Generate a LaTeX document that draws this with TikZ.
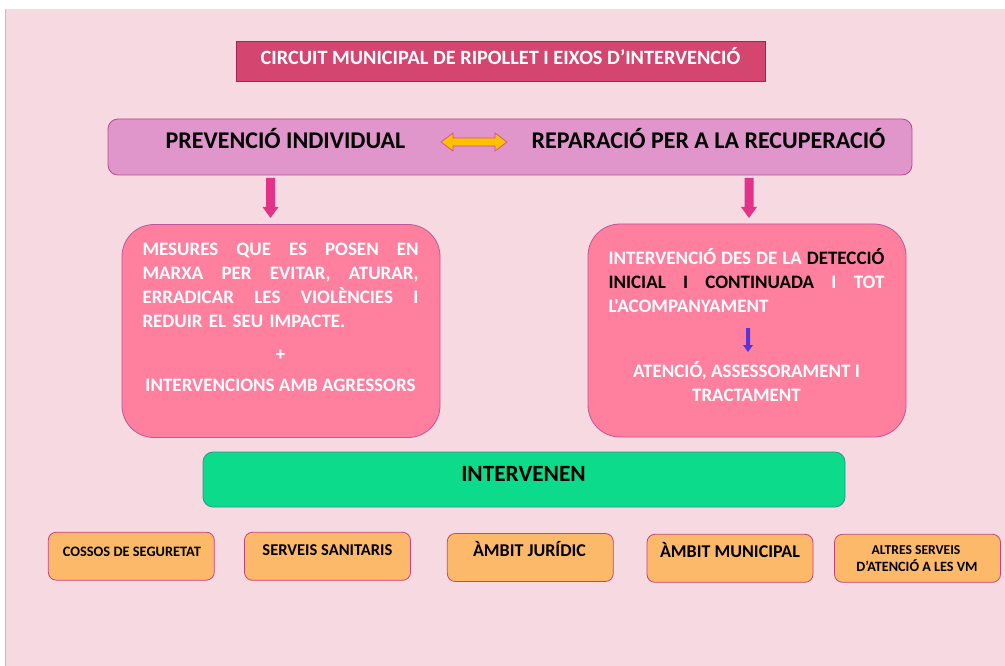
\documentclass[tikz,border=0pt]{standalone}
\usepackage{fontspec}
\setmainfont{Carlito}[Ligatures=TeXOff]
\usetikzlibrary{calc}
\definecolor{bgpink}{HTML}{F6D9E1}
\definecolor{titlefill}{HTML}{D4466F}
\definecolor{titledraw}{HTML}{A8205A}
\definecolor{bandfill}{HTML}{E096CB}
\definecolor{banddraw}{HTML}{B84A92}
\definecolor{boxfill}{HTML}{FF7F9F}
\definecolor{boxdraw}{HTML}{C0559A}
\definecolor{greenfill}{HTML}{0BDB8B}
\definecolor{greendraw}{HTML}{3A8F8F}
\definecolor{orangefill}{HTML}{FDB96A}
\definecolor{orangedraw}{HTML}{C8407F}
\definecolor{arrmag}{HTML}{E23388}
\definecolor{arryel}{HTML}{FFC000}
\definecolor{arryeldraw}{HTML}{D0508A}
\definecolor{arrpur}{HTML}{5B33D6}
\tikzset{
  titlebox/.style={draw=titledraw, fill=titlefill, line width=0.8pt, minimum width=529pt, minimum height=40pt, inner sep=0pt},
  bandbox/.style={draw=banddraw, fill=bandfill, line width=0.8pt, rounded corners=10pt, minimum width=804pt, minimum height=56pt, inner sep=0pt},
  bigbox/.style={draw=boxdraw, fill=boxfill, line width=0.8pt, rounded corners=32pt, minimum width=318pt, minimum height=213pt, inner sep=0pt},
  greenbox/.style={draw=greendraw, fill=greenfill, line width=0.8pt, rounded corners=10pt, minimum width=642pt, minimum height=55pt, inner sep=0pt},
  orbox/.style={draw=orangedraw, fill=orangefill, line width=0.8pt, rounded corners=8pt, minimum width=166pt, minimum height=48pt, inner sep=0pt},
  wtext/.style={text=white, font=\bfseries\fontsize{19}{24}\selectfont, inner sep=0pt, anchor=base},
  jline/.style={wtext, text width=276pt, align=left},
  btext/.style={text=black, inner sep=0pt, anchor=base},
}
\begin{document}
\begin{tikzpicture}[x=1pt,y=-1pt]
\useasboundingbox (0,0) rectangle (1005,666);
\fill[white] (0,0) rectangle (1005,666);
\fill[bgpink] (5,9) rectangle (1005,666);
\draw[gray!50, line width=0.6pt] (5.3,9) -- (5.3,666);

% title
\node[titlebox] (title) at (500.5,61) {};
\node[text=white, font=\bfseries\fontsize{20.3}{24}\selectfont, inner sep=0pt, anchor=base] (titletxt) at (500.5,64.3) {CIRCUIT MUNICIPAL DE RIPOLLET I EIXOS D’INTERVENCIÓ};

% band
\node[bandbox] (band) at (510,147) {};
\node[btext, font=\bfseries\fontsize{24}{28}\selectfont] (prev) at (285.5,148.5) {PREVENCIÓ INDIVIDUAL};
\node[btext, font=\bfseries\fontsize{24}{28}\selectfont] (repa) at (708.5,148.5) {REPARACIÓ PER A LA RECUPERACIÓ};
\coordinate (dl) at (441,142);
\coordinate (dr) at (507,142);
\filldraw[fill=arryel, draw=arryeldraw, line width=0.7pt]
  (dl) -- ($(dl)+(12,-9)$) -- ($(dl)+(12,-4)$) -- ($(dr)+(-12,-4)$) -- ($(dr)+(-12,-9)$) -- (dr)
  -- ($(dr)+(-12,9)$) -- ($(dr)+(-12,4)$) -- ($(dl)+(12,4)$) -- ($(dl)+(12,9)$) -- cycle;

% big boxes
\node[bigbox] (lbox) at (281,331) {};
\node[bigbox] (rbox) at (747,330.5) {};

% down arrows
\foreach \x/\n in {270.5/la, 749/ra}{
  \coordinate (\n) at (\x,178);
  \fill[arrmag] ($(\n)+(-4.5,0)$) -- ($(\n)+(4.5,0)$) -- ($(\n)+(4.5,29)$) -- ($(\n)+(8,29)$) -- ($(\n)+(0,40)$) -- ($(\n)+(-8,29)$) -- ($(\n)+(-4.5,29)$) -- cycle;
}

% left box text
\node[jline] (l1) at (280.5,255) {MESURES\hfill QUE\hfill ES\hfill POSEN\hfill EN};
\node[jline] (l2) at (280.5,279) {MARXA\hfill PER\hfill EVITAR,\hfill ATURAR,};
\node[jline] (l3) at (280.5,303) {ERRADICAR\hfill LES\hfill VIOLÈNCIES\hfill I};
\node[jline] (l4) at (280.5,327) {REDUIR EL SEU IMPACTE.};
\node[wtext] (lplus) at (280.5,360) {+};
\node[wtext] (l5) at (280.5,391) {INTERVENCIONS AMB AGRESSORS};

% right box text
\node[jline] (r1) at (746.5,264) {INTERVENCIÓ\hfill DES\hfill DE\hfill LA\hfill \textcolor{black}{DETECCIÓ}};
\node[jline] (r2) at (746.5,288) {\textcolor{black}{INICIAL}\hfill \textcolor{black}{I}\hfill \textcolor{black}{CONTINUADA}\hfill I\hfill TOT};
\node[jline] (r3) at (746.5,312) {L'ACOMPANYAMENT};
\coordinate (pa) at (748,328);
\fill[arrpur] ($(pa)+(-2,0)$) -- ($(pa)+(2,0)$) -- ($(pa)+(2,17)$) -- ($(pa)+(5,17)$) -- ($(pa)+(0,24)$) -- ($(pa)+(-5,17)$) -- ($(pa)+(-2,17)$) -- cycle;
\node[wtext] (r4) at (746.5,377) {ATENCIÓ, ASSESSORAMENT I};
\node[wtext] (r5) at (746.5,401) {TRACTAMENT};

% green
\node[greenbox] (green) at (524,479.5) {};
\node[btext, font=\bfseries\fontsize{23.3}{26}\selectfont] (intv) at (523.5,481) {INTERVENEN};

% orange boxes
\node[orbox] (o1) at (131.3,556.2) {};
\node[btext, font=\bfseries\fontsize{14.4}{16}\selectfont] (t1) at (131.9,556.7) {COSSOS DE SEGURETAT};
\node[orbox] (o2) at (327.5,556.3) {};
\node[btext, font=\bfseries\fontsize{16.5}{18}\selectfont] (t2) at (327.4,555.7) {SERVEIS SANITARIS};
\node[orbox] (o3) at (530.3,557.5) {};
\node[btext, font=\bfseries\fontsize{18}{20}\selectfont] (t3) at (529.5,556.7) {ÀMBIT JURÍDIC};
\node[orbox] (o4) at (730,558.3) {};
\node[btext, font=\bfseries\fontsize{18}{20}\selectfont] (t4) at (730,557.3) {ÀMBIT MUNICIPAL};
\node[orbox] (o5) at (917.5,558.3) {};
\node[btext, font=\bfseries\fontsize{13.6}{16}\selectfont] (t5a) at (916,554) {ALTRES SERVEIS};
\node[btext, font=\bfseries\fontsize{14.2}{16}\selectfont] (t5b) at (917,571.7) {D’ATENCIÓ A LES VM};
\end{tikzpicture}
\end{document}
